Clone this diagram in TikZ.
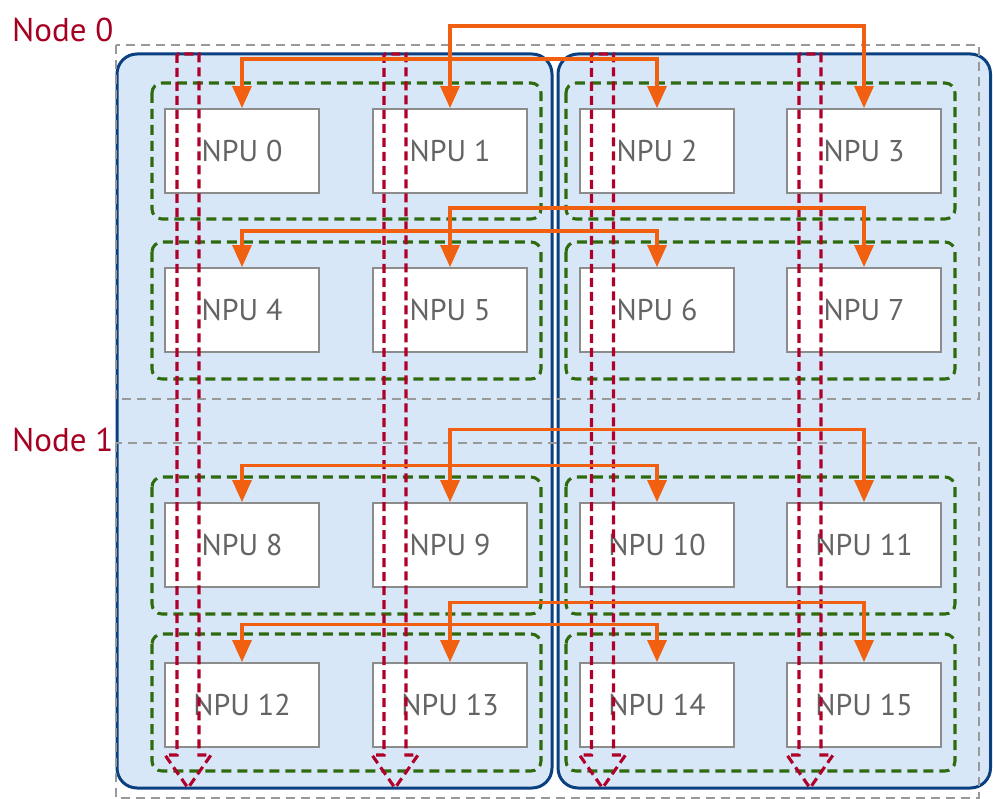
\documentclass[tikz,border=0pt]{standalone}
\usepackage{fontspec}
\setmainfont{PT Sans}
\usetikzlibrary{arrows.meta}
\definecolor{nodered}{HTML}{A50021}
\definecolor{boxblue}{HTML}{D7E7F8}
\definecolor{borderblue}{HTML}{0A3F80}
\definecolor{grpgreen}{HTML}{2E6B0C}
\definecolor{linkorange}{HTML}{F06010}
\definecolor{ringred}{HTML}{B0002A}
\definecolor{npuedge}{HTML}{8C8C8C}
\definecolor{nputext}{HTML}{646464}
\definecolor{hostgray}{HTML}{999999}
\begin{document}
\begin{tikzpicture}[x=1pt,y=-1pt,
  server/.style={fill=boxblue, draw=borderblue, line width=3pt, rounded corners=20pt},
  host/.style={draw=hostgray, line width=1.8pt, dash pattern=on 9pt off 6pt},
  group/.style={draw=grpgreen, line width=3.1pt, dash pattern=on 10pt off 6pt, rounded corners=10pt},
  npu/.style={draw=npuedge, fill=white, line width=1.8pt, minimum width=154pt, minimum height=84pt,
    inner sep=0pt, text=nputext, font=\fontsize{30}{30}\selectfont},
  hostlabel/.style={text=nodered, font=\fontsize{33}{33}\selectfont, anchor=base west, inner sep=0pt},
  link/.style={draw=linkorange, line width=3.2pt,
    {Triangle[length=22pt,width=19pt]}-{Triangle[length=22pt,width=19pt]}},
  ring/.style={draw=ringred, line width=3.1pt, dash pattern=on 9pt off 5pt, line join=miter}
]
\useasboundingbox (0,0) rectangle (993,799);

% two servers
\draw[server] (117,54) rectangle (552,788);
\draw[server] (558,54) rectangle (990.5,788);

% host boundaries
\draw[host] (116,45) rectangle (979,399);
\draw[host] (116,443) rectangle (979,798);
\node[hostlabel] (lab0) at (12,42) {Node 0};
\node[hostlabel] (lab1) at (12,451) {Node 1};

% NPU pairs
\foreach \ya/\yb in {83/219, 242/379, 477/614, 634/771} {
  \draw[group] (152,\ya) rectangle (541,\yb);
  \draw[group] (566,\ya) rectangle (955,\yb);
}

% NPUs
\foreach \i/\px/\py in {0/242/151, 1/450/151, 2/657/151, 3/864/151,
                        4/242/310, 5/450/310, 6/657/310, 7/864/310,
                        8/242/545, 9/450/545, 10/657/545, 11/864/545,
                        12/242/705, 13/450/705, 14/657/705, 15/864/705}
  \node[npu] (n\i) at (\px,\py) {NPU \i};

% vertical rings
\foreach \cx in {188, 395, 602.5, 810}
  \draw[ring] (\cx-11,54) -- (\cx-11,755) -- (\cx-23,755) -- (\cx,788)
              -- (\cx+23,755) -- (\cx+11,755) -- (\cx+11,54) -- cycle;

% cross-server links
\draw[link] (n0.north) -- ++(0,-49) -| (n2.north);
\draw[link] (n1.north) -- ++(0,-82) -| (n3.north);
\draw[link] (n4.north) -- ++(0,-36) -| (n6.north);
\draw[link] (n5.north) -- ++(0,-59) -| (n7.north);
\draw[link] (n8.north) -- ++(0,-37) -| (n10.north);
\draw[link] (n9.north) -- ++(0,-73) -| (n11.north);
\draw[link] (n12.north) -- ++(0,-38) -| (n14.north);
\draw[link] (n13.north) -- ++(0,-60) -| (n15.north);
\end{tikzpicture}
\end{document}
